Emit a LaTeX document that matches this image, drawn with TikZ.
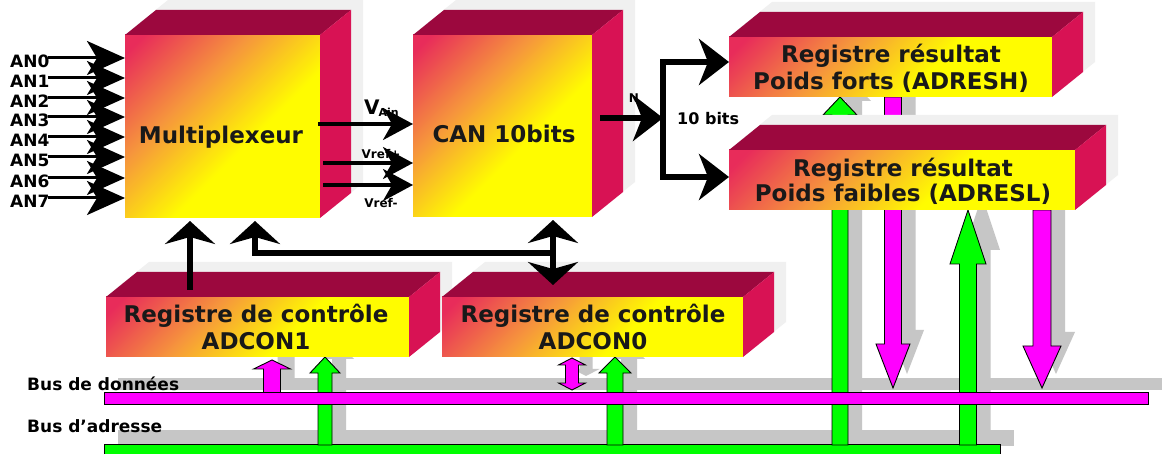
\documentclass[tikz,border=0pt]{standalone}
\usepackage{fontspec}
\setmainfont{DejaVu Sans}
\usetikzlibrary{arrows.meta,calc}
\definecolor{bred}{RGB}{232,44,90}
\definecolor{borange}{RGB}{246,150,60}
\definecolor{byellow}{RGB}{255,252,0}
\definecolor{btop}{RGB}{156,8,62}
\definecolor{bside}{RGB}{216,18,84}
\definecolor{bmag}{RGB}{255,0,255}
\definecolor{bgreen}{RGB}{0,255,0}
\definecolor{shadowg}{RGB}{198,198,198}
\definecolor{boxsh}{RGB}{240,240,240}
\pgfdeclareverticalshading{boxgrad}{100bp}{color(0bp)=(byellow); color(42bp)=(byellow); color(62bp)=(borange); color(82bp)=(bred); color(100bp)=(bred)}
% cube: name, x1, y1, x2, y2 (front face, pixel coords, y downwards)
\newcommand\cubebox[5]{%
  \fill[bshadow] ({#2+12},{#3-10}) -- ({#2+43},{#3-35}) -- ({#4+43},{#3-35}) -- ({#4+43},{#5-35}) -- ({#4+12},{#5-10}) -- ({#2+12},{#5-10}) -- cycle;
  \node[front, minimum width={(#4-#2)*1pt}, minimum height={(#5-#3)*1pt}] (#1) at ({(#2+#4)/2},{(#3+#5)/2}) {};
  \fill[topface] (#1.north west) -- ++(31,-25) -- ++({#4-#2},0) -- (#1.north east) -- cycle;
  \fill[sideface] (#1.north east) -- ++(31,-25) -- ++(0,{#5-#3}) -- (#1.south east) -- cycle;
}
% vertical block arrow: x, tip y, tail y, shaft w, head w, head length (negative = down), style
\newcommand\vblock[7]{\path[#7] ({#1-#4/2},#3) -- ({#1-#4/2},{#2+(#6)}) -- ({#1-#5/2},{#2+(#6)}) -- (#1,#2) -- ({#1+#5/2},{#2+(#6)}) -- ({#1+#4/2},{#2+(#6)}) -- ({#1+#4/2},#3) -- cycle;}
\newcommand\dblock[1]{\path[#1] (565.5,365) -- (558.5,365) -- (572,358) -- (585.5,365) -- (578.5,365) -- (578.5,383) -- (585.5,383) -- (572,390) -- (558.5,383) -- (565.5,383) -- cycle;}
\begin{document}
\begin{tikzpicture}[x=1pt,y=-1pt,
  front/.style={shade, shading=boxgrad, shading angle=45, inner sep=0pt, outer sep=0pt, draw=none},
  topface/.style={fill=btop},
  sideface/.style={fill=bside},
  bshadow/.style={fill=boxsh},
  ashadow/.style={fill=shadowg, shift={(14,-14)}},
  greenarr/.style={fill=bgreen, draw=black, line width=0.9pt},
  magarr/.style={fill=bmag, draw=black, line width=0.9pt},
  boxtext/.style={font=\bfseries\fontsize{23}{27}\selectfont, inner sep=0pt, anchor=base, text=black!90},
  smalllab/.style={font=\bfseries\fontsize{17}{17}\selectfont, inner sep=0pt},
  vlab/.style={font=\bfseries\fontsize{12}{12}\selectfont, inner sep=0pt},
  anarr/.style={line width=3pt, -{Stealth[length=38pt,width=34pt,inset=10pt]}},
  midarr/.style={line width=3.5pt, -{Stealth[length=30pt,width=32pt,inset=9pt]}},
  bigarr/.style={line width=5.5pt, -{Stealth[length=30pt,width=46pt,inset=9pt]}},
  vertarr/.style={line width=5.5pt, -{Stealth[length=23pt,width=50pt,inset=7pt]}},
]
\useasboundingbox (0,0) rectangle (1165,454);
\fill[white] (0,0) rectangle (1165,454);

% shadows of buses and vertical arrows
\path[ashadow] (104,392) rectangle (1148,404);
\path[ashadow] (104,444) rectangle (1000,460);
\vblock{272}{360}{393}{17}{37}{9}{ashadow}
\vblock{325}{357}{445}{14}{30}{16}{ashadow}
\dblock{ashadow}
\vblock{615}{357}{445}{16}{32}{16}{ashadow}
\vblock{840}{97}{445}{16}{34}{18}{ashadow}
\vblock{893}{388}{97}{17}{34}{-44}{ashadow}
\vblock{968}{210}{445}{17}{36}{54}{ashadow}
\vblock{1042}{388}{210}{18}{38}{-42}{ashadow}

% address bus
\path[fill=bgreen, draw=black, line width=0.9pt] (104,444) rectangle (1000,460);

% vertical arrows
\vblock{325}{357}{445}{14}{30}{16}{greenarr}
\vblock{615}{357}{445}{16}{32}{16}{greenarr}
\vblock{840}{97}{445}{16}{34}{18}{greenarr}
\vblock{968}{210}{445}{17}{36}{54}{greenarr}
\vblock{272}{360}{393}{17}{37}{9}{magarr}
\dblock{magarr}
\vblock{893}{388}{97}{17}{34}{-44}{magarr}
\vblock{1042}{388}{210}{18}{38}{-42}{magarr}

% data bus
\path[fill=bmag, draw=black, line width=0.9pt] (104,392) rectangle (1148,404);

\node[smalllab, anchor=base west] (busd) at (27,390) {Bus de données};
\node[smalllab, anchor=base west] (busa) at (27,432) {Bus d'adresse};

% boxes
\cubebox{mux}{125}{35}{320}{218}
\cubebox{can}{413}{35}{592}{217}
\cubebox{forts}{729}{37}{1052}{97}
\cubebox{faibles}{729}{150}{1075}{210}
\cubebox{adcon1}{106}{297}{409}{357}
\cubebox{adcon0}{442}{297}{743}{357}

\node[boxtext] (muxt) at (221,144) {Multiplexeur};
\node[boxtext] (cant) at (504,143) {CAN 10bits};
\node[boxtext] (fortsa) at (891,63) {Registre résultat};
\node[boxtext] (fortsb) at (891,90) {Poids forts (ADRESH)};
\node[boxtext] (faiba) at (903,177) {Registre résultat};
\node[boxtext] (faibb) at (903,202) {Poids faibles (ADRESL)};
\node[boxtext] (ad1a) at (256,323) {Registre de contrôle};
\node[boxtext] (ad1b) at (256,350) {ADCON1};
\node[boxtext] (ad0a) at (593,323) {Registre de contrôle};
\node[boxtext] (ad0b) at (593,350) {ADCON0};

% analog inputs
\foreach \i/\y in {0/58,1/78,2/98,3/117,4/137,5/157,6/178,7/198}{
  \node[smalllab, anchor=west] (an\i) at (10,\y+3) {AN\i};
  \coordinate (s\i) at (48,\y);
  \draw[anarr] (s\i) -- (s\i -| mux.west);
}

% multiplexer to CAN
\coordinate (va) at (318,124);
\coordinate (vp) at (323,163);
\coordinate (vm) at (323,185);
\draw[midarr] (va) -- (va -| can.west);
\draw[midarr] (vp) -- (vp -| can.west);
\draw[midarr] (vm) -- (vm -| can.west);
\node[anchor=base west, inner sep=0pt, font=\bfseries] (vain) at (364,115) {\fontsize{20}{20}\selectfont V\kern-1pt\raisebox{-2pt}{\fontsize{11}{11}\selectfont Ain}};
\node[vlab] (vrefp) at (381,154) {Vref+};
\node[vlab] (vrefm) at (381,203) {Vref-};

% CAN to result registers
\coordinate (co) at (600,118);
\coordinate (br) at (663,118);
\draw[bigarr] (co) -- (br);
\draw[bigarr] (br) |- ([yshift=5pt]forts.west);
\draw[bigarr] (br) |- ([yshift=3pt]faibles.west);
\node[font=\bfseries\fontsize{12}{12}\selectfont, inner sep=0pt] (nlab) at (634,98) {N};
\node[font=\bfseries\fontsize{16}{16}\selectfont, inner sep=0pt, anchor=base west] (tenb) at (677,125) {10 bits};

% control registers
\coordinate (c1) at (190,290);
\draw[vertarr] (c1) -- ([yshift=-3pt]c1 |- mux.south);
\coordinate (j) at (553,253);
\coordinate (m1) at (255,253);
\draw[vertarr] (j) -- (m1) -- ([yshift=-3pt]m1 |- mux.south);
\coordinate (c0) at (553,285);
\draw[line width=5.5pt, {Stealth[length=23pt,width=50pt,inset=7pt]}-{Stealth[length=23pt,width=50pt,inset=7pt]}] ([yshift=-3pt]j |- can.south) -- (c0);
\end{tikzpicture}
\end{document}
